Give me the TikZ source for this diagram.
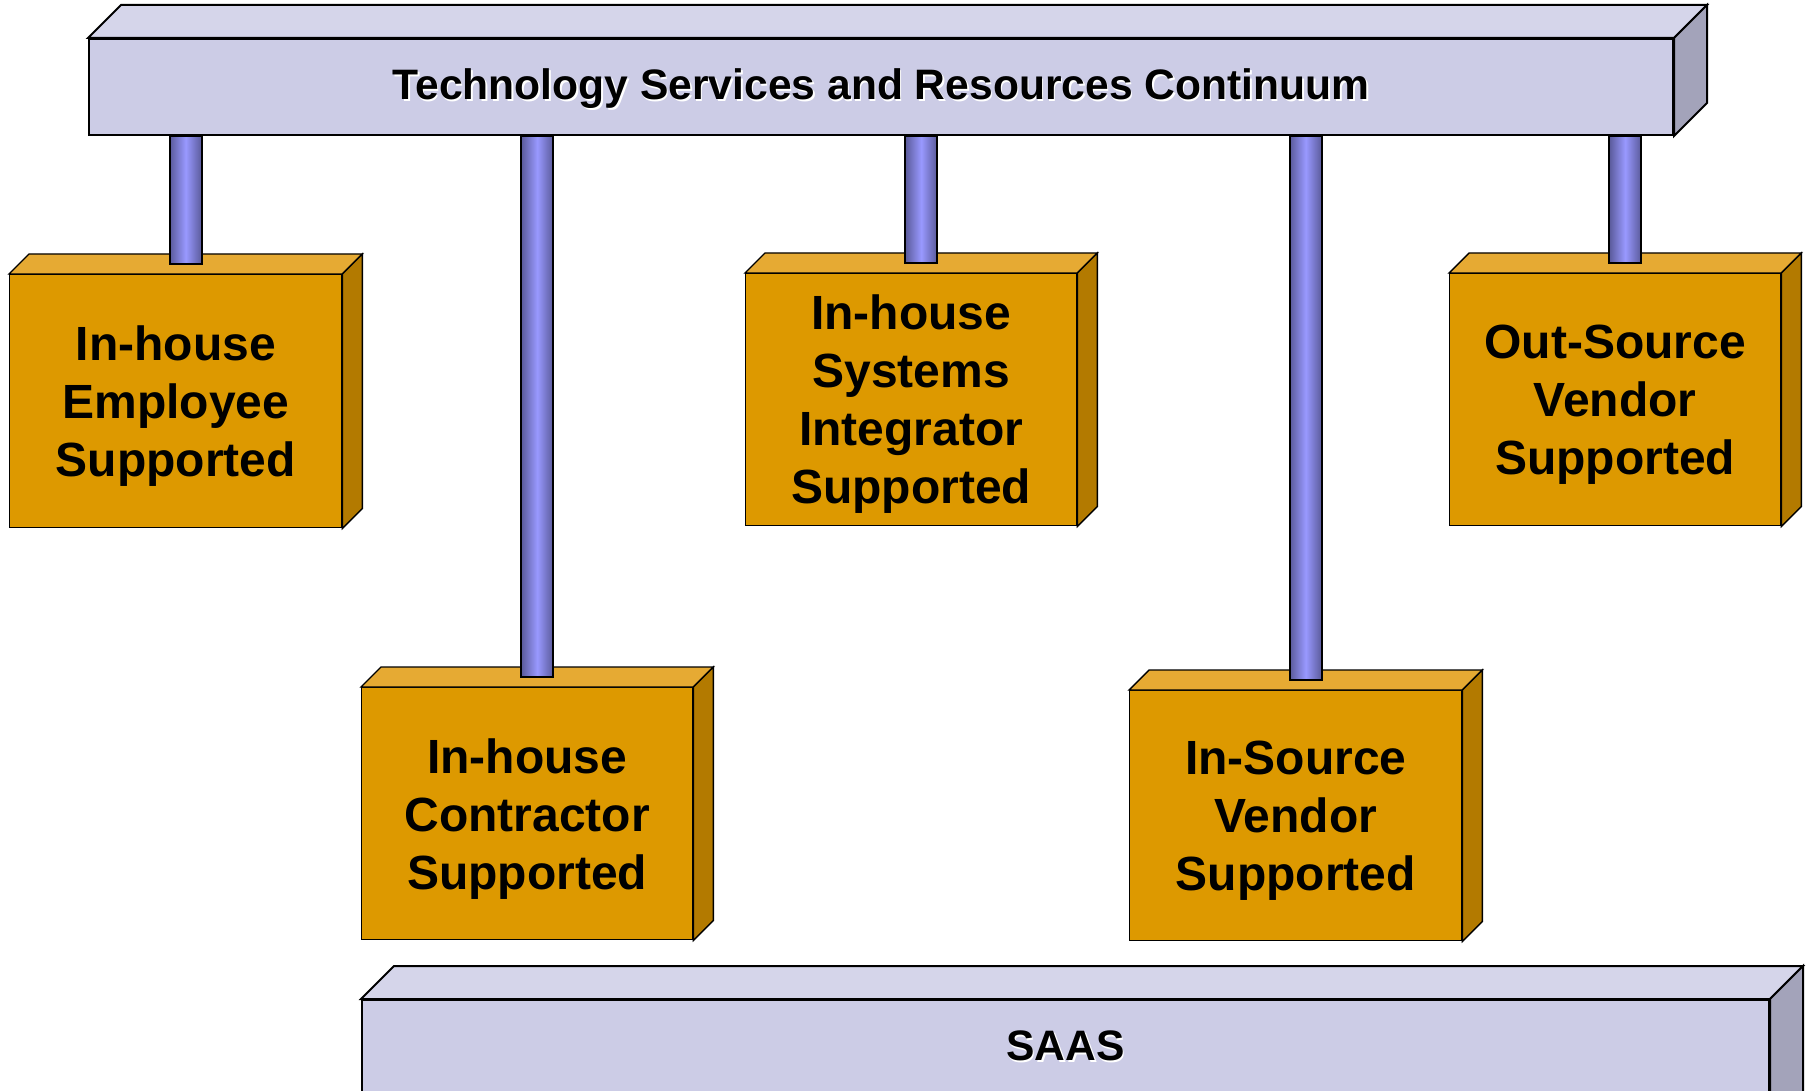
\documentclass[tikz,border=0pt]{standalone}
\usepackage{fontspec}
\setmainfont{Liberation Sans}
\usetikzlibrary{calc}
\definecolor{barfront}{HTML}{CCCCE6}
\definecolor{bartop}{HTML}{D5D5EA}
\definecolor{barside}{HTML}{A3A3BA}
\definecolor{boxfront}{HTML}{DD9900}
\definecolor{boxtop}{HTML}{E6AA33}
\definecolor{boxside}{HTML}{B37A00}
\definecolor{pipedark}{HTML}{5A5A9A}
\definecolor{pipelight}{HTML}{9999FF}
\newcommand\cubefaces[5]{% name, depth, top colour, side colour, line width
  \filldraw[fill=#3,line width=#5,line join=miter] (#1.north west) -- ++(#2,-#2) -- ([shift={(#2,-#2)}]#1.north east) -- (#1.north east) -- cycle;
  \filldraw[fill=#4,line width=#5,line join=miter] (#1.north east) -- ++(#2,-#2) -- ([shift={(#2,-#2)}]#1.south east) -- (#1.south east) -- cycle;}
\tikzset{
  barbox/.style={draw, fill=barfront, line width=2pt, inner sep=0pt, anchor=north west},
  suppbox/.style={draw, fill=boxfront, line width=1.4pt, inner sep=0pt, anchor=north west},
  boxtext/.style={inner sep=0pt, align=center, font=\fontsize{48}{58}\selectfont\bfseries},
  bartext/.style={font=\fontsize{42.6}{50}\selectfont\bfseries, inner sep=0pt},
  pipe/.style={left color=pipedark, right color=pipedark, middle color=pipelight, draw=black, line width=2pt},
}
\begin{document}
\begin{tikzpicture}[x=1pt,y=-1pt]
\useasboundingbox (0,0) rectangle (1808,1091);
\clip (0,0) rectangle (1808,1091);
% supported boxes
\node[suppbox, minimum width=332pt, minimum height=253pt] (b1) at (9,274) {};
\node[suppbox, minimum width=331pt, minimum height=252pt] (b2) at (361,687) {};
\node[suppbox, minimum width=331pt, minimum height=252pt] (b3) at (745,273) {};
\node[suppbox, minimum width=332pt, minimum height=250pt] (b4) at (1129,690) {};
\node[suppbox, minimum width=331pt, minimum height=252pt] (b5) at (1449,273) {};
\foreach \b in {b1,b2,b3,b4,b5} {\cubefaces{\b}{20}{boxtop}{boxside}{1.4pt}}
\node[boxtext] (t1) at ([yshift=-5pt]b1.center) {In-house\\Employee\\Supported};
\node[boxtext] (t2) at ([yshift=-5pt]b2.center) {In-house\\Contractor\\Supported};
\node[boxtext] (t3) at ([yshift=-4pt]b3.center) {In-house\\Systems\\Integrator\\Supported};
\node[boxtext] (t4) at ([yshift=-5pt]b4.center) {In-Source\\Vendor\\Supported};
\node[boxtext] (t5) at ([yshift=-5pt]b5.center) {Out-Source\\Vendor\\Supported};
% top bar
\node[barbox, minimum width=1584pt, minimum height=96pt] (top) at (88,38) {};
\cubefaces{top}{33}{bartop}{barside}{2pt}
\node[bartext, white] at ([shift={(1.5,3.5)}]top.center) {Technology Services and Resources Continuum};
\node[bartext] (title) at ([shift={(0,2)}]top.center) {Technology Services and Resources Continuum};
% pipes
\foreach \b in {b1,b2,b3,b4,b5} {
  \shadedraw[pipe] ([xshift=-6pt]top.south -| \b.north) rectangle ([xshift=26pt,yshift=10pt]\b.north);
}
% SAAS bar
\node[barbox, minimum width=1407pt, minimum height=200pt] (saas) at (361,999) {};
\cubefaces{saas}{33}{bartop}{barside}{2pt}
\node[bartext, white] at (1067,1047.5) {SAAS};
\node[bartext] (saaslabel) at (1065.5,1046) {SAAS};
\end{tikzpicture}
\end{document}
